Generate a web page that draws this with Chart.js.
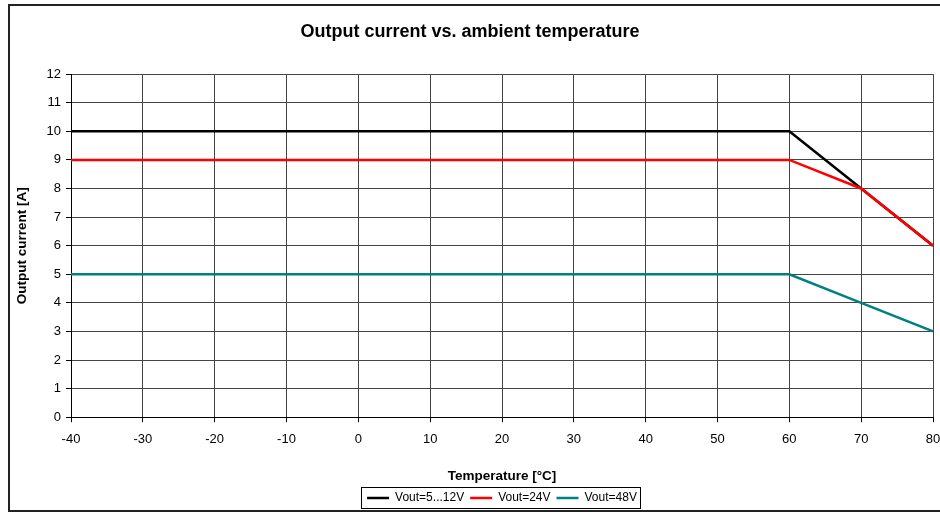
<!DOCTYPE html>
<html>
<head>
<meta charset="utf-8">
<script src="https://cdn.jsdelivr.net/npm/chart.js@4/dist/chart.umd.min.js"></script>
<style>
  html, body { margin: 0; padding: 0; background: #fff; }
  #wrap { width: 940px; height: 514px; position: relative; }
</style>
</head>
<body>
<div id="wrap"><canvas id="derating-chart"></canvas></div>
<script>
// Derating curve data
const temps = [-40, 60, 70, 80];
const current5to12 = [10, 10, 8, 6];
const current24 = [9, 9, 8, 6];
const current48 = [5, 5, 4, 3];
const seriesNames = ["Vout=5...12V", "Vout=24V", "Vout=48V"];
const xTicks = [-40, -30, -20, -10, 0, 10, 20, 30, 40, 50, 60, 70, 80];
const yTicks = [0, 1, 2, 3, 4, 5, 6, 7, 8, 9, 10, 11, 12];

const toPoints = (ys) => temps.map((t, i) => ({ x: t, y: ys[i] }));

const FONT = "Arial, 'Liberation Sans', sans-serif";

// outer frame round the whole picture
const framePlugin = {
  id: 'frame',
  beforeDraw(chart) {
    const ctx = chart.ctx;
    ctx.save();
    ctx.fillStyle = '#fff';
    ctx.fillRect(0, 0, chart.width, chart.height);
    ctx.strokeStyle = '#222';
    ctx.lineWidth = 2;
    ctx.strokeRect(9, 5, 940, 506);
    ctx.restore();
  }
};

// box round the legend entries
const legendBoxPlugin = {
  id: 'legendBox',
  afterDraw(chart) {
    const lg = chart.legend;
    if (!lg || !lg.legendHitBoxes.length) return;
    const boxes = lg.legendHitBoxes;
    let l = Infinity, r = -Infinity, t = Infinity, b = -Infinity;
    boxes.forEach(h => {
      l = Math.min(l, h.left);
      r = Math.max(r, h.left + h.width);
      t = Math.min(t, h.top);
      b = Math.max(b, h.top + h.height);
    });
    const ctx = chart.ctx;
    ctx.save();
    ctx.strokeStyle = '#000';
    ctx.lineWidth = 1;
    ctx.strokeRect(Math.round(l - 6) + 0.5, Math.round(t - 5) + 0.5, Math.round(r - l + 9), Math.round(b - t + 9));
    ctx.restore();
  }
};

const colors = ['#000000', '#FF0000', '#008080'];
const seriesData = [current5to12, current24, current48];

let deratingChart = new Chart(document.getElementById('derating-chart'), {
  type: 'scatter',
  data: {
    datasets: seriesData.map((vals, i) => ({
      label: seriesNames[i],
      data: toPoints(vals),
      showLine: true,
      borderColor: colors[i],
      backgroundColor: colors[i],
      borderWidth: 2.5,
      pointRadius: 0,
      pointHoverRadius: 0,
      order: [1, 0, 2][i]
    }))
  },
  options: {
    responsive: true,
    maintainAspectRatio: false,
    animation: false,
    layout: { padding: { left: 0, right: 0, top: 0, bottom: 0 } },
    scales: {
      x: {
        type: 'linear',
        min: -40,
        max: 80,
        afterBuildTicks: (s) => { s.ticks = xTicks.map(v => ({ value: v })); },
        afterFit: (s) => { s.paddingRight = 7; },
        grid: { color: '#444', lineWidth: 1, tickLength: 5, tickColor: '#000' },
        border: { color: '#000', width: 1 },
        ticks: { color: '#000', font: { family: FONT, size: 13 }, padding: 9, maxRotation: 0 },
        title: {
          display: true,
          text: 'Temperature [°C]',
          color: '#000',
          font: { family: FONT, size: 13.5, weight: 'bold' },
          padding: { top: 12, bottom: 2 }
        }
      },
      y: {
        min: 0,
        max: 12,
        afterBuildTicks: (s) => { s.ticks = yTicks.map(v => ({ value: v })); },
        afterFit: (s) => { s.width = 71; },
        grid: { color: '#444', lineWidth: 1, tickLength: 5, tickColor: '#000' },
        border: { color: '#000', width: 1 },
        ticks: { color: '#000', font: { family: FONT, size: 13 }, padding: 5 },
        title: {
          display: true,
          text: 'Output current [A]',
          color: '#000',
          font: { family: FONT, size: 13.5, weight: 'bold' },
          padding: { top: 14, bottom: 0 }
        }
      }
    },
    plugins: {
      title: {
        display: true,
        text: 'Output current vs. ambient temperature',
        color: '#000',
        font: { family: FONT, size: 18, weight: 'bold' },
        padding: { top: 21, bottom: 31.5 }
      },
      legend: {
        position: 'bottom',
        fullSize: false,
        labels: {
          usePointStyle: true,
          pointStyle: 'line',
          pointStyleWidth: 22,
          boxHeight: 12,
          color: '#000',
          font: { family: FONT, size: 12 },
          padding: 6,
          sort: (a, b) => a.datasetIndex - b.datasetIndex
        }
      },
      tooltip: { enabled: false }
    }
  },
  plugins: [framePlugin, legendBoxPlugin]
});
</script>
</body>
</html>
